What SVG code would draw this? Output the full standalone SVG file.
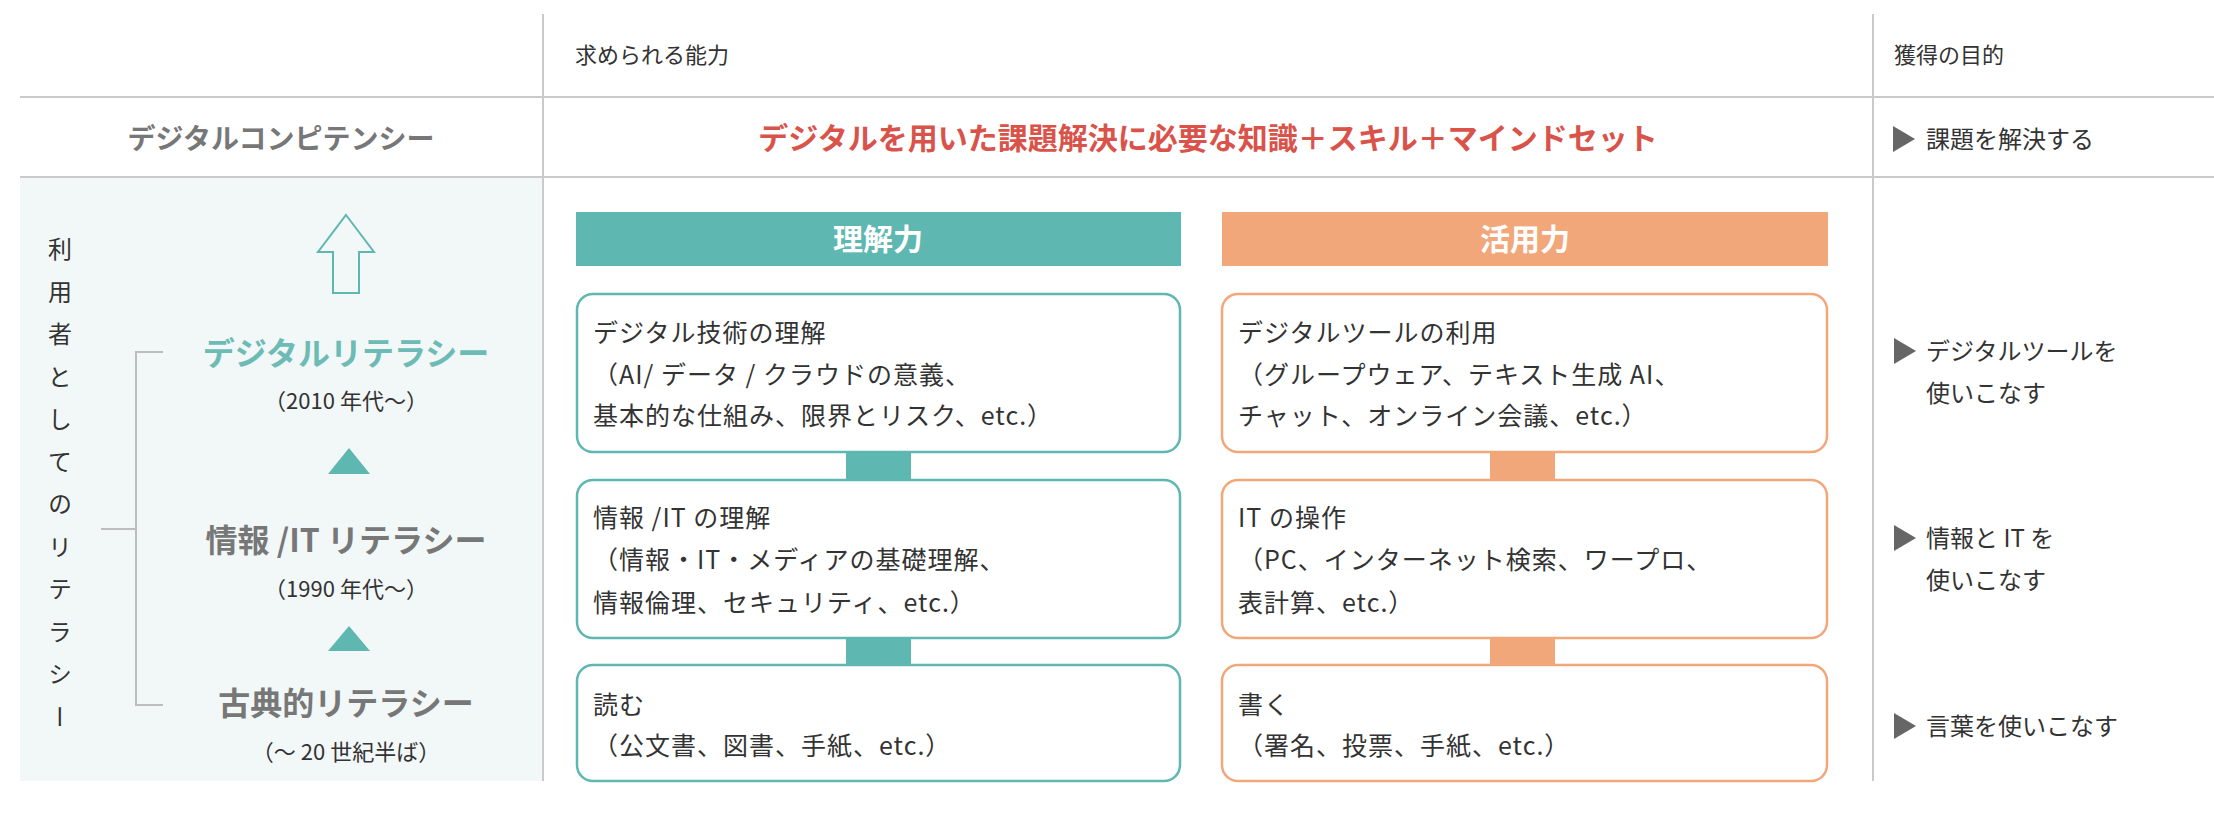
<svg xmlns="http://www.w3.org/2000/svg" width="2214" height="824" viewBox="0 0 2214 824">
<style>
text{font-family:"Noto Sans CJK JP","Noto Sans",sans-serif}
.h{font-size:22px;fill:#333}
.t{font-size:25px;fill:#333;letter-spacing:1px}
.g{font-size:24px;fill:#333}
.lt{font-weight:bold;font-size:32px;fill:#777;text-anchor:middle}
.sub{font-size:22px;fill:#333;text-anchor:middle}
.tb{fill:#fff;stroke:#5eb8b1;stroke-width:2.5}
.ob{fill:#fff;stroke:#f2a77a;stroke-width:2.5}
.ln{stroke:#cacaca;stroke-width:2;fill:none}
.br{stroke:#bdbdbd;stroke-width:2;fill:none}
.tri{fill:#666}
</style>
<rect x="20" y="177" width="522" height="604" fill="#f2f7f7"/>
<g id="grid">
<line class="ln" x1="20" y1="97" x2="2214" y2="97"/>
<line class="ln" x1="20" y1="177" x2="2214" y2="177"/>
<line class="ln" x1="543" y1="14" x2="543" y2="781"/>
<line class="ln" x1="1873" y1="14" x2="1873" y2="781"/>
</g>
<g id="headers">
<text class="h" x="575" y="63">求められる能力</text>
<text class="h" x="1894" y="63">獲得の目的</text>
<text x="281" y="149" font-size="28" fill="#777" text-anchor="middle" font-weight="bold">デジタルコンピテンシー</text>
<text x="1208" y="149" font-size="30" fill="#d9534a" text-anchor="middle" font-weight="bold">デジタルを用いた課題解決に必要な知識＋スキル＋マインドセット</text>
</g>
<g id="left">
<text x="60" y="237" font-size="24" fill="#333" style="writing-mode:vertical-rl" letter-spacing="18.5">利用者としてのリテラシー</text>
<path class="br" d="M163 352H136V705H163M101 529H136"/>
<path d="M346 215L374 252H359V293H333V252H318Z" fill="none" stroke="#5eb8b1" stroke-width="2"/>
<text class="lt" x="346" y="365" fill="#6dbbb5" style="fill:#6dbbb5">デジタルリテラシー</text>
<text class="sub" x="346" y="409">（2010 年代〜）</text>
<path d="M349 448L370 474H328Z" fill="#5eb8b1"/>
<text class="lt" x="346" y="552">情報 /IT リテラシー</text>
<text class="sub" x="346" y="597">（1990 年代〜）</text>
<path d="M349 626L370 651H328Z" fill="#5eb8b1"/>
<text class="lt" x="346" y="715">古典的リテラシー</text>
<text class="sub" x="346" y="760">（〜 20 世紀半ば）</text>
</g>
<g id="connectors">
<path d="M865 436h27v16h19v28h-19v15h-27v-15h-19v-28h19z" fill="#5eb8b1"/>
<path d="M865 622h27v16h19v27h-19v16h-27v-16h-19v-27h19z" fill="#5eb8b1"/>
<path d="M1509 436h27v16h19v28h-19v15h-27v-15h-19v-28h19z" fill="#f2a77a"/>
<path d="M1509 622h27v16h19v27h-19v16h-27v-16h-19v-27h19z" fill="#f2a77a"/>
</g>
<g id="rikai">
<rect x="576" y="212" width="605" height="54" fill="#5eb8b1"/>
<text x="878" y="250" font-size="30" font-weight="bold" fill="#fff" text-anchor="middle">理解力</text>
</g>
<g id="katsuyo">
<rect x="1222" y="212" width="606" height="54" fill="#f2a77a"/>
<text x="1525" y="250" font-size="30" font-weight="bold" fill="#fff" text-anchor="middle">活用力</text>
</g>
<g id="t1"><rect class="tb" x="577" y="294" width="603" height="158" rx="16"/>
<text class="t" x="593" y="342">デジタル技術の理解</text><text class="t" x="593" y="384">（AI/ データ / クラウドの意義、</text><text class="t" x="593" y="425">基本的な仕組み、限界とリスク、etc.）</text></g>
<g id="t2"><rect class="tb" x="577" y="480" width="603" height="158" rx="16"/>
<text class="t" x="593" y="527">情報 /IT の理解</text><text class="t" x="593" y="569">（情報・IT・メディアの基礎理解、</text><text class="t" x="593" y="612">情報倫理、セキュリティ、etc.）</text></g>
<g id="t3"><rect class="tb" x="577" y="665" width="603" height="116" rx="16"/>
<text class="t" x="593" y="714">読む</text><text class="t" x="593" y="755">（公文書、図書、手紙、etc.）</text></g>
<g id="o1"><rect class="ob" x="1222" y="294" width="605" height="158" rx="16"/>
<text class="t" x="1238" y="342">デジタルツールの利用</text><text class="t" x="1238" y="384">（グループウェア、テキスト生成 AI、</text><text class="t" x="1238" y="425">チャット、オンライン会議、etc.）</text></g>
<g id="o2"><rect class="ob" x="1222" y="480" width="605" height="158" rx="16"/>
<text class="t" x="1238" y="527">IT の操作</text><text class="t" x="1238" y="569">（PC、インターネット検索、ワープロ、</text><text class="t" x="1238" y="612">表計算、etc.）</text></g>
<g id="o3"><rect class="ob" x="1222" y="665" width="605" height="116" rx="16"/>
<text class="t" x="1238" y="714">書く</text><text class="t" x="1238" y="755">（署名、投票、手紙、etc.）</text></g>
<g id="goals">
<path class="tri" d="M1893 126L1915 139L1893 152Z"/><text class="g" x="1926" y="148">課題を解決する</text>
<path class="tri" d="M1894 338L1916 351L1894 364Z"/><text class="g" x="1926" y="360">デジタルツールを</text><text class="g" x="1926" y="402">使いこなす</text>
<path class="tri" d="M1894 525L1916 538L1894 551Z"/><text class="g" x="1926" y="547">情報と IT を</text><text class="g" x="1926" y="589">使いこなす</text>
<path class="tri" d="M1894 713L1916 726L1894 739Z"/><text class="g" x="1926" y="735">言葉を使いこなす</text>
</g>
</svg>
